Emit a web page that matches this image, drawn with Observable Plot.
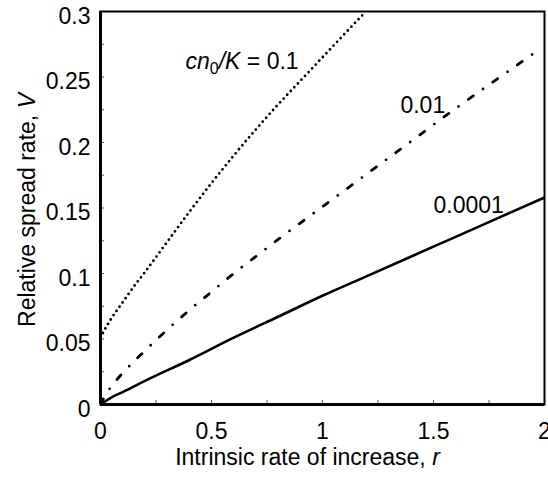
<!DOCTYPE html>
<html>
<head>
<meta charset="utf-8">
<script src="https://cdn.jsdelivr.net/npm/d3@7"></script>
<script src="https://cdn.jsdelivr.net/npm/@observablehq/plot@0.6"></script>
<style>
  html, body { margin: 0; padding: 0; background: white; }
  #chart { width: 548px; height: 479px; overflow: hidden; }
</style>
</head>
<body>
<div id="chart"></div>
<script>
// ---- data ----
const rDotted = [0, 0.025, 0.05, 0.1, 0.15, 0.2, 0.3, 0.4, 0.5, 0.6, 0.7, 0.8, 0.9, 1.0, 1.1, 1.19];
const vDotted = [0.051, 0.059, 0.066, 0.078, 0.090, 0.101, 0.124, 0.147, 0.169, 0.190, 0.210, 0.229, 0.247, 0.265, 0.283, 0.299];

const rDashDot = [0, 0.025, 0.05, 0.1, 0.2, 0.3, 0.4, 0.5, 0.6, 0.7, 0.8, 1.0, 1.2, 1.4, 1.6, 1.8, 1.96];
const vDashDot = [0, 0.008, 0.014, 0.024, 0.041, 0.057, 0.072, 0.086, 0.100, 0.113, 0.126, 0.151, 0.176, 0.201, 0.226, 0.250, 0.269];

const rSolid = [0, 0.05, 0.1, 0.2, 0.4, 0.6, 0.8, 1.0, 1.2, 1.4, 1.6, 1.8, 2.0];
const vSolid = [0, 0.0055, 0.0095, 0.018, 0.034, 0.051, 0.067, 0.083, 0.098, 0.113, 0.128, 0.143, 0.158];

const xTickLabels = [0, 0.5, 1, 1.5, 2];
const yTickLabels = [0, 0.05, 0.1, 0.15, 0.2, 0.25, 0.3];
const xTickMarks = [0.25, 0.5, 0.75, 1, 1.25, 1.5, 1.75];
const yTickMarks = [0.025, 0.05, 0.075, 0.1, 0.125, 0.15, 0.175, 0.2, 0.225, 0.25, 0.275];

const labelText = ["cn0/K = 0.1", "0.01", "0.0001"];
const labelR = [0.383, 1.351, 1.5];
const labelV = [0.262, 0.228, 0.1515];

const xTitle = "Intrinsic rate of increase, r";
const yTitle = "Relative spread rate, V";

// ---- build tables ----
const zip = (rs, vs) => rs.map((r, i) => ({r, v: vs[i]}));
const dotted = zip(rDotted, vDotted);
const dashDot = zip(rDashDot, vDashDot);
const solid = zip(rSolid, vSolid);
const labels = labelText.map((t, i) => ({t, r: labelR[i], v: labelV[i]}));

const W = 548, H = 479;
const mL = 100, mR = 4, mT = 11, mB = 75;
const plotW = W - mL - mR, plotH = H - mT - mB;
const FS = 23;

const chart = Plot.plot({
  width: W,
  height: H,
  marginLeft: mL,
  marginRight: mR,
  marginTop: mT,
  marginBottom: mB,
  style: {fontFamily: "'Liberation Sans', Arial, sans-serif", fontSize: FS + "px", color: "black", background: "white"},
  x: {domain: [0, 2], label: null},
  y: {domain: [0, 0.3], label: null},
  marks: [
    Plot.tickX(xTickMarks, {x: d => d, stroke: "#555", strokeWidth: 1, insetTop: plotH - 4}),
    Plot.tickY(yTickMarks, {y: d => d, stroke: "#555", strokeWidth: 1, insetRight: plotW - 4}),
    Plot.line(dotted, {x: "r", y: "v", stroke: "black", strokeWidth: 2.8, strokeDasharray: "0,5.2", strokeLinecap: "round", curve: "monotone-x", clip: true}),
    Plot.line(dashDot, {x: "r", y: "v", stroke: "black", strokeWidth: 2.8, strokeDasharray: "6,12,0,12", strokeLinecap: "round", curve: "monotone-x", clip: true}),
    Plot.line(solid, {x: "r", y: "v", stroke: "black", strokeWidth: 2.6, curve: "monotone-x", clip: true}),
    Plot.frame({stroke: "black", strokeWidth: 2}),
    Plot.ruleX([0], {stroke: "black", strokeWidth: 3}),
    Plot.ruleY([0], {stroke: "black", strokeWidth: 3}),
    Plot.axisX({ticks: xTickLabels, tickSize: 0, tickPadding: 18, tickFormat: d => String(d), label: null, fontSize: FS}),
    Plot.axisY({ticks: yTickLabels, tickSize: 0, tickPadding: 10, tickFormat: d => String(d), label: null, fontSize: FS, dy: 5}),
    Plot.text(labels, {x: "r", y: "v", text: "t", textAnchor: "start", lineAnchor: "middle", fontSize: FS, fill: "black"}),
    Plot.text([xTitle], {text: d => d, frameAnchor: "bottom", textAnchor: "middle", lineAnchor: "middle", dy: 53, dx: -15, fontSize: FS, fill: "black"}),
    Plot.text([yTitle], {text: d => d, frameAnchor: "left", textAnchor: "middle", lineAnchor: "middle", rotate: -90, dx: -73, dy: 2, fontSize: FS, fill: "black"})
  ]
});

// ---- rich text (italics / subscript) ----
const rich = {
  "cn0/K = 0.1": [["cn", "i"], ["0", "sub"], ["/K", "i"], [" = 0.1", ""]],
  "Intrinsic rate of increase, r": [["Intrinsic rate of increase, ", ""], ["r", "i"]],
  "Relative spread rate, V": [["Relative spread rate, ", ""], ["V", "i"]]
};
d3.select(chart).selectAll("text").each(function() {
  const parts = rich[this.textContent];
  if (!parts) return;
  const el = d3.select(this);
  el.text(null);
  let shifted = false;
  for (const [s, kind] of parts) {
    const ts = el.append("tspan").text(s);
    if (kind === "i") ts.attr("font-style", "italic");
    if (kind === "sub") {
      ts.attr("font-size", Math.round(FS * 0.7)).attr("dy", "5");
      shifted = true;
    } else if (shifted) {
      ts.attr("dy", "-5");
      shifted = false;
    }
  }
});

document.getElementById("chart").appendChild(chart);
</script>
</body>
</html>
